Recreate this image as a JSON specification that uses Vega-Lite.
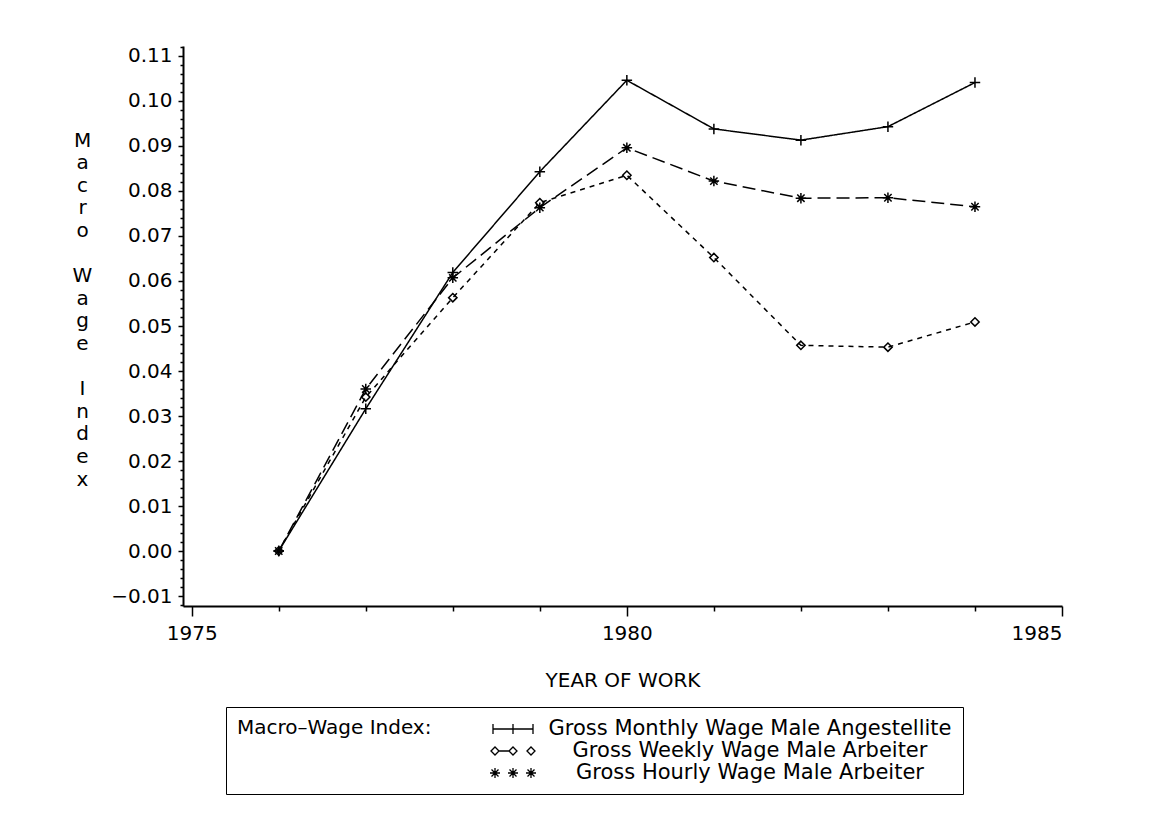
{
  "$schema": "https://vega.github.io/schema/vega-lite/v6.json",
  "width": 879,
  "height": 560,
  "autosize": {"type": "none"},
  "padding": {"left": 183, "top": 46, "right": 87, "bottom": 217},
  "background": "white",
  "config": {
    "view": {"stroke": null},
    "font": "DejaVu Sans",
    "axis": {
      "domainColor": "black",
      "domainWidth": 2,
      "tickColor": "black",
      "tickWidth": 1.5,
      "labelColor": "black",
      "titleColor": "black",
      "labelFont": "DejaVu Sans",
      "titleFont": "DejaVu Sans",
      "labelFontSize": 20,
      "titleFontSize": 20,
      "titleFontWeight": "normal",
      "grid": false
    }
  },
  "data": {
    "values": [
      {"year": 1976, "series": "Gross Monthly Wage Male Angestellite", "index": 0.0},
      {"year": 1977, "series": "Gross Monthly Wage Male Angestellite", "index": 0.0316},
      {"year": 1978, "series": "Gross Monthly Wage Male Angestellite", "index": 0.0619},
      {"year": 1979, "series": "Gross Monthly Wage Male Angestellite", "index": 0.0843},
      {"year": 1980, "series": "Gross Monthly Wage Male Angestellite", "index": 0.1046},
      {"year": 1981, "series": "Gross Monthly Wage Male Angestellite", "index": 0.0938},
      {"year": 1982, "series": "Gross Monthly Wage Male Angestellite", "index": 0.0913},
      {"year": 1983, "series": "Gross Monthly Wage Male Angestellite", "index": 0.0943},
      {"year": 1984, "series": "Gross Monthly Wage Male Angestellite", "index": 0.1041},
      {"year": 1976, "series": "Gross Weekly Wage Male Arbeiter", "index": 0.0},
      {"year": 1977, "series": "Gross Weekly Wage Male Arbeiter", "index": 0.0342},
      {"year": 1978, "series": "Gross Weekly Wage Male Arbeiter", "index": 0.0563},
      {"year": 1979, "series": "Gross Weekly Wage Male Arbeiter", "index": 0.0774},
      {"year": 1980, "series": "Gross Weekly Wage Male Arbeiter", "index": 0.0835},
      {"year": 1981, "series": "Gross Weekly Wage Male Arbeiter", "index": 0.0652},
      {"year": 1982, "series": "Gross Weekly Wage Male Arbeiter", "index": 0.0457},
      {"year": 1983, "series": "Gross Weekly Wage Male Arbeiter", "index": 0.0453},
      {"year": 1984, "series": "Gross Weekly Wage Male Arbeiter", "index": 0.0509},
      {"year": 1976, "series": "Gross Hourly Wage Male Arbeiter", "index": 0.0},
      {"year": 1977, "series": "Gross Hourly Wage Male Arbeiter", "index": 0.036},
      {"year": 1978, "series": "Gross Hourly Wage Male Arbeiter", "index": 0.0607},
      {"year": 1979, "series": "Gross Hourly Wage Male Arbeiter", "index": 0.0763},
      {"year": 1980, "series": "Gross Hourly Wage Male Arbeiter", "index": 0.0896},
      {"year": 1981, "series": "Gross Hourly Wage Male Arbeiter", "index": 0.0822},
      {"year": 1982, "series": "Gross Hourly Wage Male Arbeiter", "index": 0.0784},
      {"year": 1983, "series": "Gross Hourly Wage Male Arbeiter", "index": 0.0785},
      {"year": 1984, "series": "Gross Hourly Wage Male Arbeiter", "index": 0.0765}
    ]
  },
  "encoding": {
    "x": {
      "field": "year",
      "type": "quantitative",
      "scale": {"domain": [1974.9, 1985], "nice": false, "zero": false},
      "axis": {
        "values": [1975, 1976, 1977, 1978, 1979, 1980, 1981, 1982, 1983, 1984, 1985],
        "format": "d",
        "labelExpr": "datum.value % 5 === 0 ? datum.label : ''",
        "tickSize": {"condition": {"test": "datum.value % 5 === 0", "value": 10}, "value": 5},
        "labelPadding": 7,
        "title": "YEAR OF WORK",
        "titleY": 74,
        "titleBaseline": "middle"
      }
    },
    "y": {
      "field": "index",
      "type": "quantitative",
      "scale": {"domain": [-0.01222, 0.11222], "nice": false, "zero": false},
      "axis": {
        "values": [-0.012, -0.01, -0.008, -0.006, -0.004, -0.002, 0, 0.002, 0.004, 0.006, 0.008, 0.01, 0.012, 0.014, 0.016, 0.018, 0.02, 0.022, 0.024, 0.026, 0.028, 0.03, 0.032, 0.034, 0.036, 0.038, 0.04, 0.042, 0.044, 0.046, 0.048, 0.05, 0.052, 0.054, 0.056, 0.058, 0.06, 0.062, 0.064, 0.066, 0.068, 0.07, 0.072, 0.074, 0.076, 0.078, 0.08, 0.082, 0.084, 0.086, 0.088, 0.09, 0.092, 0.094, 0.096, 0.098, 0.1, 0.102, 0.104, 0.106, 0.108, 0.11, 0.112],
        "labelExpr": "abs(datum.value * 100 - round(datum.value * 100)) < 0.001 ? format(datum.value, '.2f') : ''",
        "tickSize": {"condition": {"test": "abs(datum.value * 100 - round(datum.value * 100)) < 0.001", "value": 5}, "value": 3},
        "labelPadding": 6,
        "title": ["M", "a", "c", "r", "o", "\u200b", "W", "a", "g", "e", "\u200b", "I", "n", "d", "e", "x"],
        "titleAngle": 0,
        "titleLineHeight": 22.6,
        "titleX": -101,
        "titleY": 94,
        "titleAlign": "center",
        "titleBaseline": "middle"
      }
    }
  },
  "resolve": {"scale": {"shape": "independent"}, "legend": {"shape": "independent"}},
  "layer": [
    {
      "mark": {"type": "line", "color": "black", "strokeWidth": 1.5},
      "encoding": {
        "strokeDash": {
          "field": "series",
          "type": "nominal",
          "scale": {
            "domain": ["Gross Monthly Wage Male Angestellite", "Gross Weekly Wage Male Arbeiter", "Gross Hourly Wage Male Arbeiter"],
            "range": [[1, 0], [5, 5], [13, 6]]
          },
          "legend": null
        }
      }
    },
    {
      "mark": {"type": "point", "filled": false, "color": "black", "strokeWidth": 1.5, "size": 110, "opacity": 1},
      "encoding": {
        "shape": {
          "field": "series",
          "type": "nominal",
          "scale": {
            "domain": ["Gross Monthly Wage Male Angestellite", "Gross Weekly Wage Male Arbeiter", "Gross Hourly Wage Male Arbeiter"],
            "range": ["M-1,0L1,0M0,-1L0,1", "M0,-0.8L0.8,0L0,0.8L-0.8,0Z", "M-1,0L1,0M0,-1L0,1M-0.7,-0.7L0.7,0.7M-0.7,0.7L0.7,-0.7"]
          },
          "legend": null
        }
      }
    },
    {
      "mark": {"type": "point", "filled": false, "color": "black", "strokeWidth": 1.3, "size": 400, "opacity": 0},
      "encoding": {
        "shape": {
          "field": "series",
          "type": "nominal",
          "scale": {
            "domain": ["Gross Monthly Wage Male Angestellite", "Gross Weekly Wage Male Arbeiter", "Gross Hourly Wage Male Arbeiter"],
            "range": [
              "M-2,0L2,0M-2,-0.5L-2,0.5M0,-0.5L0,0.5M2,-0.5L2,0.5",
              "M-2.2,0L-1.8,-0.4L-1.4,0L-1.8,0.4Z M-1.4,0L-0.4,0 M-0.4,0L0,-0.4L0.4,0L0,0.4Z M1.4,0L1.8,-0.4L2.2,0L1.8,0.4Z",
              "M-2.3,0L-1.3,0M-1.8,-0.5L-1.8,0.5M-2.15,-0.35L-1.45,0.35M-2.15,0.35L-1.45,-0.35M-0.5,0L0.5,0M0,-0.5L0,0.5M-0.35,-0.35L0.35,0.35M-0.35,0.35L0.35,-0.35M1.3,0L2.3,0M1.8,-0.5L1.8,0.5M1.45,-0.35L2.15,0.35M1.45,0.35L2.15,-0.35"
            ]
          },
          "legend": {
            "orient": "none",
            "legendX": 43,
            "legendY": 661,
            "direction": "vertical",
            "title": "Macro–Wage Index:",
            "titleOrient": "left",
            "titleAnchor": "start",
            "titleFontSize": 20,
            "titleFontWeight": "normal",
            "titleColor": "black",
            "titleFont": "DejaVu Sans",
            "titleBaseline": "top",
            "titleLimit": 400,
            "titlePadding": 40,
            "labelFontSize": 21,
            "labelFont": "DejaVu Sans",
            "labelColor": "black",
            "labelAlign": "center",
            "labelOffset": 226,
            "labelLimit": 700,
            "symbolSize": 400,
            "symbolOffset": 30,
            "symbolOpacity": 1,
            "symbolStrokeColor": "black",
            "symbolFillColor": "transparent",
            "symbolStrokeWidth": 1.3,
            "rowPadding": 1,
            "padding": 11,
            "strokeColor": "black",
            "fillColor": "white"
          }
        }
      }
    }
  ]
}
